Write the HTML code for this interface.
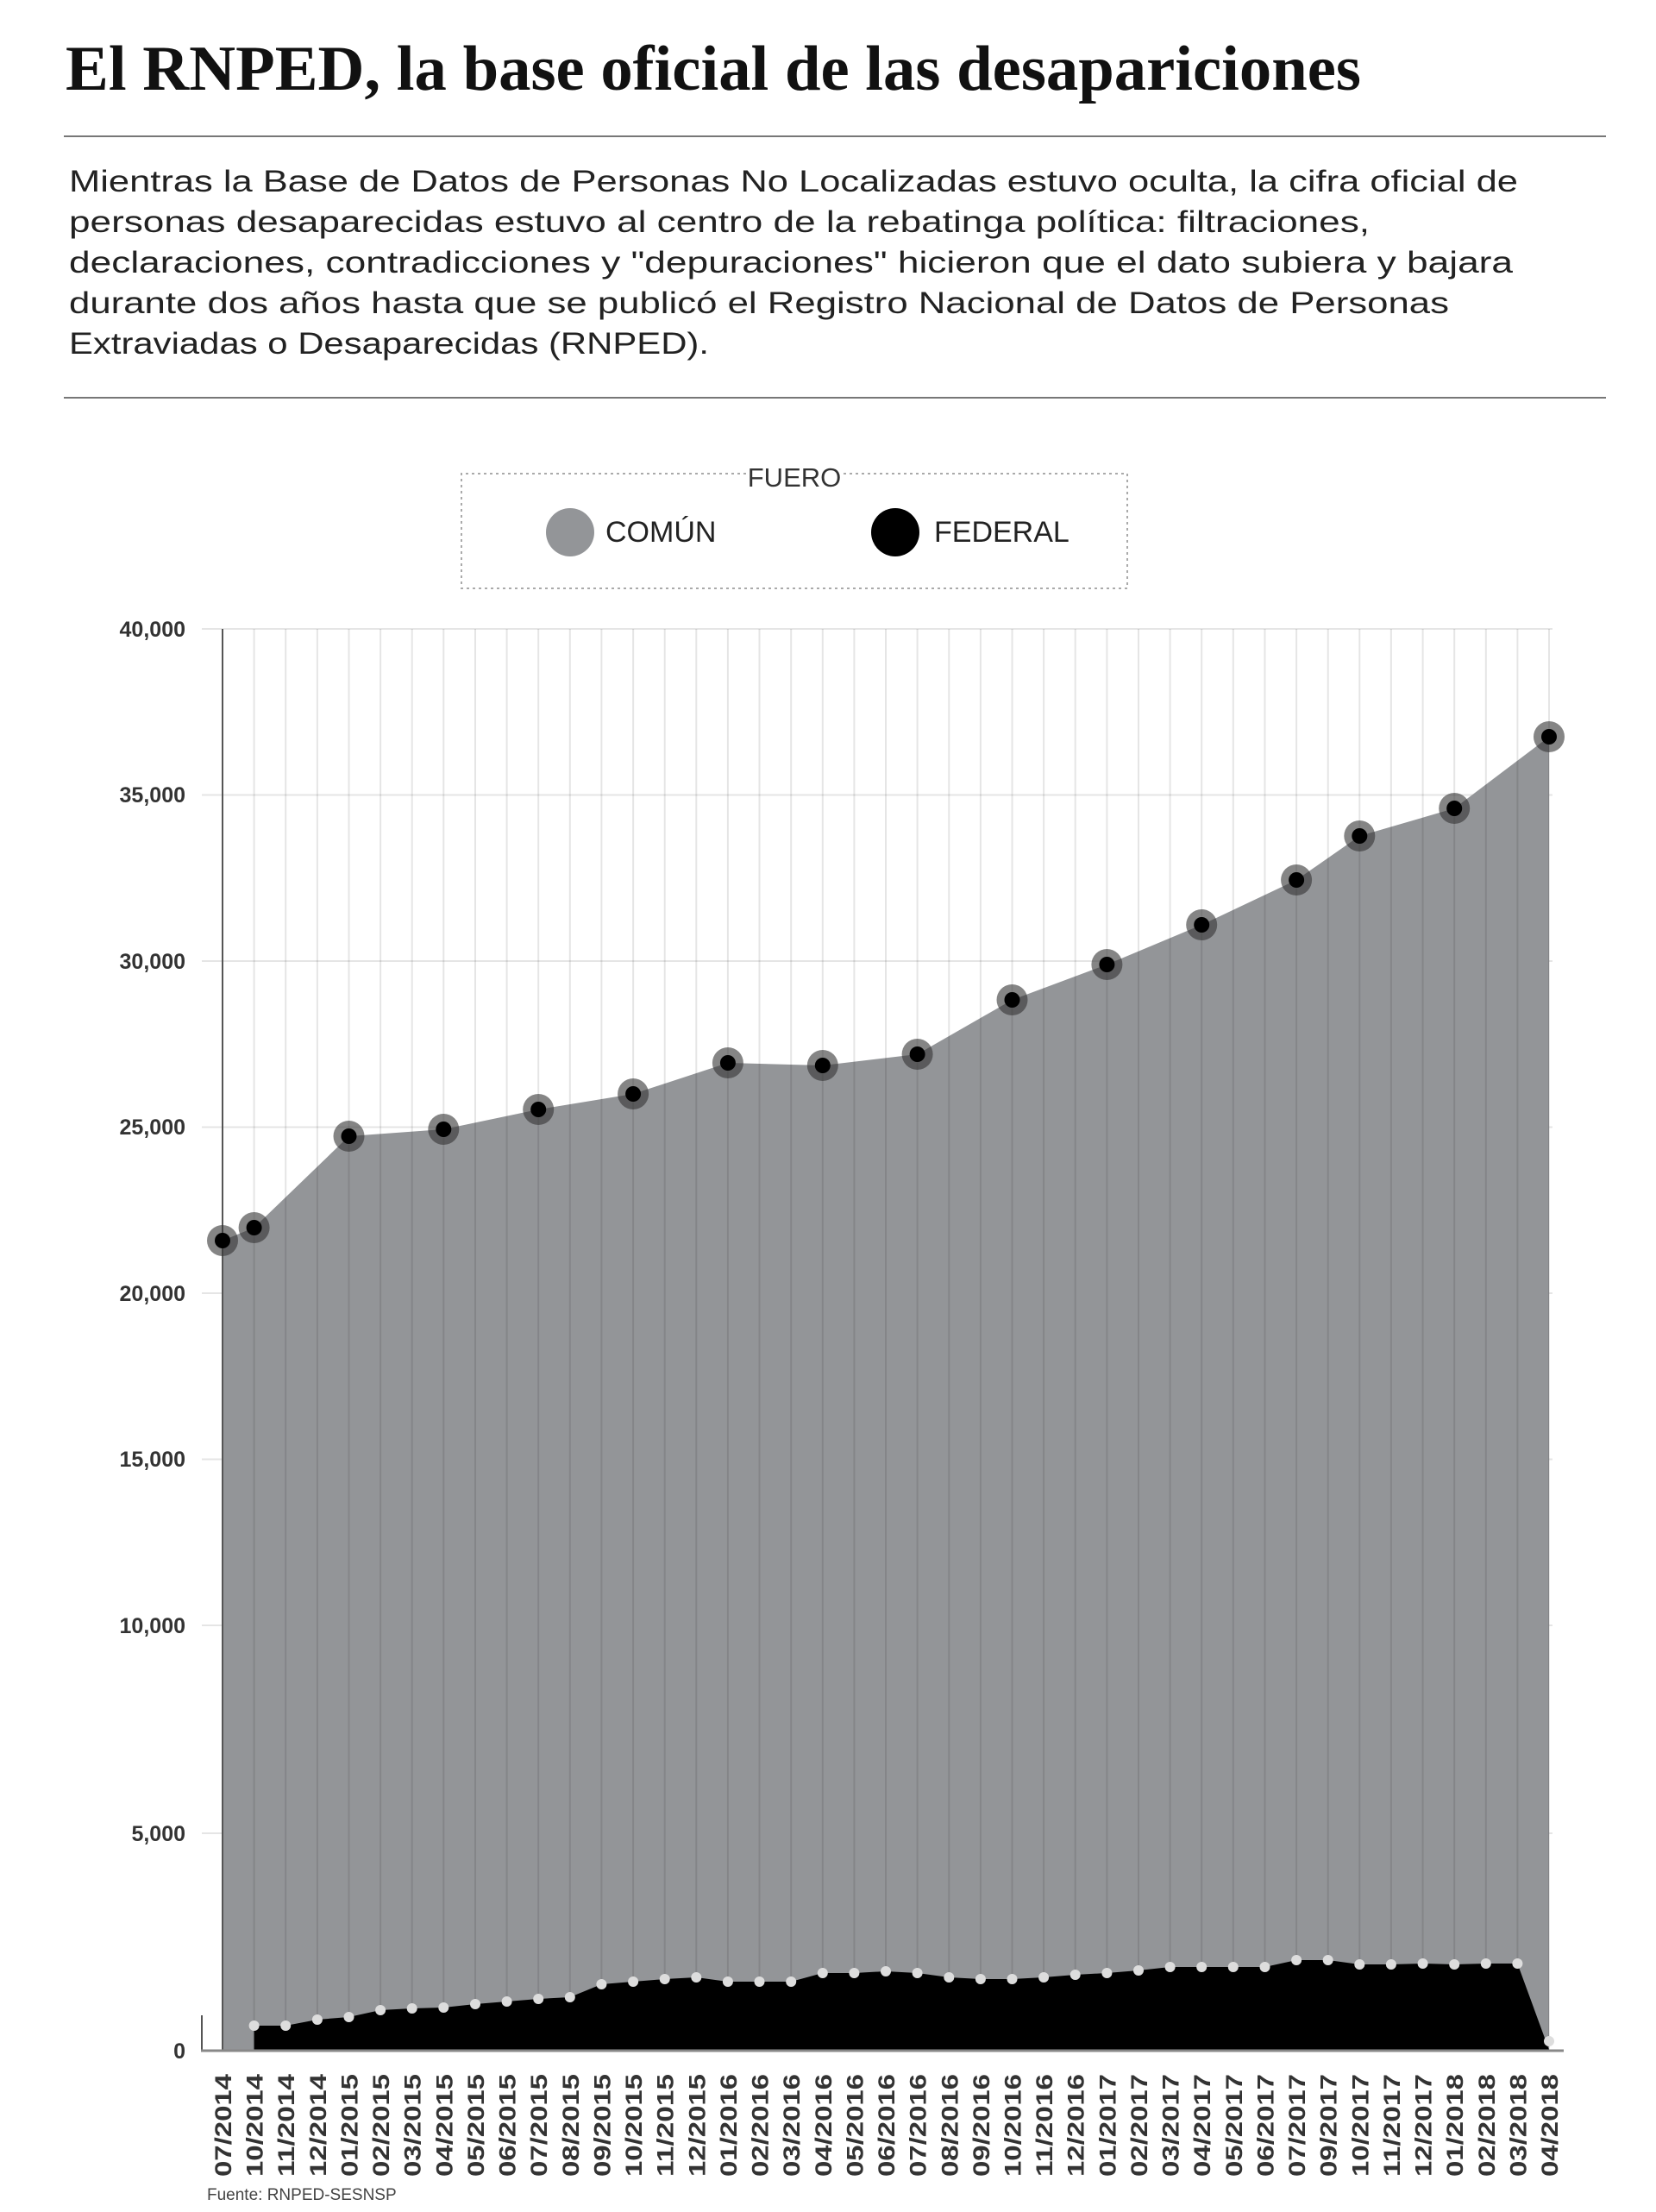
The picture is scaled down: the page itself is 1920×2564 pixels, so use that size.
<!DOCTYPE html>
<html><head><meta charset="utf-8"><style>
html,body{margin:0;padding:0;background:#fff;}
svg{display:block;}
.xl{font-family:"Liberation Sans",sans-serif;font-weight:bold;font-size:27px;fill:#333;}
.yl{font-family:"Liberation Sans",sans-serif;font-weight:bold;font-size:25px;fill:#333;}
.p{font-family:"Liberation Sans",sans-serif;font-size:35px;fill:#222;}
</style></head><body>
<svg width="1920" height="2564" viewBox="0 0 1920 2564" xmlns="http://www.w3.org/2000/svg">
<text x="76" y="104" font-family="Liberation Serif" font-weight="bold" font-size="74" fill="#111" textLength="1502" lengthAdjust="spacingAndGlyphs">El RNPED, la base oficial de las desapariciones</text>
<rect x="74" y="157" width="1788" height="2" fill="#777"/>
<text class="p" x="80" y="222" textLength="1680" lengthAdjust="spacingAndGlyphs">Mientras la Base de Datos de Personas No Localizadas estuvo oculta, la cifra oficial de</text>
<text class="p" x="80" y="269" textLength="1508" lengthAdjust="spacingAndGlyphs">personas desaparecidas estuvo al centro de la rebatinga política: filtraciones,</text>
<text class="p" x="80" y="316" textLength="1674" lengthAdjust="spacingAndGlyphs">declaraciones, contradicciones y "depuraciones" hicieron que el dato subiera y bajara</text>
<text class="p" x="80" y="363" textLength="1600" lengthAdjust="spacingAndGlyphs">durante dos años hasta que se publicó el Registro Nacional de Datos de Personas</text>
<text class="p" x="80" y="410" textLength="742" lengthAdjust="spacingAndGlyphs">Extraviadas o Desaparecidas (RNPED).</text>
<rect x="74" y="460" width="1788" height="2" fill="#777"/>
<!-- legend -->
<path d="M865 549 H535 V682 H1307 V549 H978" fill="none" stroke="#aaa" stroke-width="2" stroke-dasharray="3,4"/>
<text x="921" y="564" text-anchor="middle" font-family="Liberation Sans" font-size="31" fill="#333">FUERO</text>
<circle cx="661" cy="617" r="28" fill="#939598"/>
<text x="702" y="628" font-family="Liberation Sans" font-size="34" fill="#222">COMÚN</text>
<circle cx="1038" cy="617" r="28" fill="#000"/>
<text x="1083" y="628" font-family="Liberation Sans" font-size="34" fill="#222">FEDERAL</text>
<!-- horizontal grid -->
<g stroke="#000" stroke-opacity="0.1" stroke-width="2">
<line x1="234" y1="729" x2="1800" y2="729"/>
<line x1="234" y1="921.5" x2="1800" y2="921.5"/>
<line x1="234" y1="1114" x2="1800" y2="1114"/>
<line x1="234" y1="1306.5" x2="1800" y2="1306.5"/>
<line x1="234" y1="1499" x2="1800" y2="1499"/>
<line x1="234" y1="1691.5" x2="1800" y2="1691.5"/>
<line x1="234" y1="1884" x2="1800" y2="1884"/>
<line x1="234" y1="2125" x2="1800" y2="2125"/>
</g>
<g class="yl" text-anchor="end">
<text x="215" y="738">40,000</text>
<text x="215" y="930">35,000</text>
<text x="215" y="1123">30,000</text>
<text x="215" y="1315">25,000</text>
<text x="215" y="1508">20,000</text>
<text x="215" y="1700">15,000</text>
<text x="215" y="1893">10,000</text>
<text x="215" y="2134">5,000</text>
<text x="215" y="2386">0</text>
</g>
<!-- areas -->
<polygon fill="#939598" points="258,1438 294.6,1423 404.5,1317 514.3,1309 624.2,1286 734.1,1268 843.9,1232 953.8,1235 1063.6,1222 1173.5,1159 1283.4,1118 1393.2,1072 1503.1,1020 1576.3,969 1686.2,937 1796,854 1796,2376 258,2376"/>
<polygon fill="#000" points="294.6,2376 294.6,2348 331.2,2348 367.9,2341 404.5,2338 441.1,2330 477.7,2328 514.3,2327 551,2323 587.6,2320 624.2,2317 660.8,2315 697.4,2300 734.1,2297 770.7,2294 807.3,2292 843.9,2297 880.5,2297 917.2,2297 953.8,2287 990.4,2287 1027,2285 1063.6,2287 1100.3,2292 1136.9,2294 1173.5,2294 1210.1,2292 1246.7,2289 1283.4,2287 1320,2284 1356.6,2280 1393.2,2280 1429.8,2280 1466.5,2280 1503.1,2272 1539.7,2272 1576.3,2277 1612.9,2277 1649.6,2276 1686.2,2277 1722.8,2276 1759.4,2276 1796,2376"/>
<!-- vertical grid -->
<g stroke="#000" stroke-opacity="0.1" stroke-width="2">
<line x1="294.6" y1="729" x2="294.6" y2="2376"/><line x1="331.2" y1="729" x2="331.2" y2="2376"/><line x1="367.9" y1="729" x2="367.9" y2="2376"/><line x1="404.5" y1="729" x2="404.5" y2="2376"/><line x1="441.1" y1="729" x2="441.1" y2="2376"/><line x1="477.7" y1="729" x2="477.7" y2="2376"/><line x1="514.3" y1="729" x2="514.3" y2="2376"/><line x1="551" y1="729" x2="551" y2="2376"/><line x1="587.6" y1="729" x2="587.6" y2="2376"/><line x1="624.2" y1="729" x2="624.2" y2="2376"/><line x1="660.8" y1="729" x2="660.8" y2="2376"/><line x1="697.4" y1="729" x2="697.4" y2="2376"/><line x1="734.1" y1="729" x2="734.1" y2="2376"/><line x1="770.7" y1="729" x2="770.7" y2="2376"/><line x1="807.3" y1="729" x2="807.3" y2="2376"/><line x1="843.9" y1="729" x2="843.9" y2="2376"/><line x1="880.5" y1="729" x2="880.5" y2="2376"/><line x1="917.2" y1="729" x2="917.2" y2="2376"/><line x1="953.8" y1="729" x2="953.8" y2="2376"/><line x1="990.4" y1="729" x2="990.4" y2="2376"/><line x1="1027" y1="729" x2="1027" y2="2376"/><line x1="1063.6" y1="729" x2="1063.6" y2="2376"/><line x1="1100.3" y1="729" x2="1100.3" y2="2376"/><line x1="1136.9" y1="729" x2="1136.9" y2="2376"/><line x1="1173.5" y1="729" x2="1173.5" y2="2376"/><line x1="1210.1" y1="729" x2="1210.1" y2="2376"/><line x1="1246.7" y1="729" x2="1246.7" y2="2376"/><line x1="1283.4" y1="729" x2="1283.4" y2="2376"/><line x1="1320" y1="729" x2="1320" y2="2376"/><line x1="1356.6" y1="729" x2="1356.6" y2="2376"/><line x1="1393.2" y1="729" x2="1393.2" y2="2376"/><line x1="1429.8" y1="729" x2="1429.8" y2="2376"/><line x1="1466.5" y1="729" x2="1466.5" y2="2376"/><line x1="1503.1" y1="729" x2="1503.1" y2="2376"/><line x1="1539.7" y1="729" x2="1539.7" y2="2376"/><line x1="1576.3" y1="729" x2="1576.3" y2="2376"/><line x1="1612.9" y1="729" x2="1612.9" y2="2376"/><line x1="1649.6" y1="729" x2="1649.6" y2="2376"/><line x1="1686.2" y1="729" x2="1686.2" y2="2376"/><line x1="1722.8" y1="729" x2="1722.8" y2="2376"/><line x1="1759.4" y1="729" x2="1759.4" y2="2376"/><line x1="1796" y1="729" x2="1796" y2="2376"/>
</g>
<!-- axes -->
<line x1="258" y1="729" x2="258" y2="2376" stroke="#555" stroke-width="2"/>
<line x1="234" y1="2336" x2="234" y2="2377" stroke="#555" stroke-width="2"/>
<line x1="233" y1="2377" x2="1813" y2="2377" stroke="#888" stroke-width="3"/>
<!-- federal dots -->
<g fill="#ddd">
<circle cx="294.6" cy="2348" r="6"/><circle cx="331.2" cy="2348" r="6"/><circle cx="367.9" cy="2341" r="6"/><circle cx="404.5" cy="2338" r="6"/><circle cx="441.1" cy="2330" r="6"/><circle cx="477.7" cy="2328" r="6"/><circle cx="514.3" cy="2327" r="6"/><circle cx="551" cy="2323" r="6"/><circle cx="587.6" cy="2320" r="6"/><circle cx="624.2" cy="2317" r="6"/><circle cx="660.8" cy="2315" r="6"/><circle cx="697.4" cy="2300" r="6"/><circle cx="734.1" cy="2297" r="6"/><circle cx="770.7" cy="2294" r="6"/><circle cx="807.3" cy="2292" r="6"/><circle cx="843.9" cy="2297" r="6"/><circle cx="880.5" cy="2297" r="6"/><circle cx="917.2" cy="2297" r="6"/><circle cx="953.8" cy="2287" r="6"/><circle cx="990.4" cy="2287" r="6"/><circle cx="1027" cy="2285" r="6"/><circle cx="1063.6" cy="2287" r="6"/><circle cx="1100.3" cy="2292" r="6"/><circle cx="1136.9" cy="2294" r="6"/><circle cx="1173.5" cy="2294" r="6"/><circle cx="1210.1" cy="2292" r="6"/><circle cx="1246.7" cy="2289" r="6"/><circle cx="1283.4" cy="2287" r="6"/><circle cx="1320" cy="2284" r="6"/><circle cx="1356.6" cy="2280" r="6"/><circle cx="1393.2" cy="2280" r="6"/><circle cx="1429.8" cy="2280" r="6"/><circle cx="1466.5" cy="2280" r="6"/><circle cx="1503.1" cy="2272" r="6"/><circle cx="1539.7" cy="2272" r="6"/><circle cx="1576.3" cy="2277" r="6"/><circle cx="1612.9" cy="2277" r="6"/><circle cx="1649.6" cy="2276" r="6"/><circle cx="1686.2" cy="2277" r="6"/><circle cx="1722.8" cy="2276" r="6"/><circle cx="1759.4" cy="2276" r="6"/><circle cx="1796" cy="2366" r="6"/>
</g>
<!-- common markers -->
<g fill="#333" fill-opacity="0.6">
<circle cx="258" cy="1438" r="18"/><circle cx="294.6" cy="1423" r="18"/><circle cx="404.5" cy="1317" r="18"/><circle cx="514.3" cy="1309" r="18"/><circle cx="624.2" cy="1286" r="18"/><circle cx="734.1" cy="1268" r="18"/><circle cx="843.9" cy="1232" r="18"/><circle cx="953.8" cy="1235" r="18"/><circle cx="1063.6" cy="1222" r="18"/><circle cx="1173.5" cy="1159" r="18"/><circle cx="1283.4" cy="1118" r="18"/><circle cx="1393.2" cy="1072" r="18"/><circle cx="1503.1" cy="1020" r="18"/><circle cx="1576.3" cy="969" r="18"/><circle cx="1686.2" cy="937" r="18"/><circle cx="1796" cy="854" r="18"/>
</g>
<g fill="#000">
<circle cx="258" cy="1438" r="9"/><circle cx="294.6" cy="1423" r="9"/><circle cx="404.5" cy="1317" r="9"/><circle cx="514.3" cy="1309" r="9"/><circle cx="624.2" cy="1286" r="9"/><circle cx="734.1" cy="1268" r="9"/><circle cx="843.9" cy="1232" r="9"/><circle cx="953.8" cy="1235" r="9"/><circle cx="1063.6" cy="1222" r="9"/><circle cx="1173.5" cy="1159" r="9"/><circle cx="1283.4" cy="1118" r="9"/><circle cx="1393.2" cy="1072" r="9"/><circle cx="1503.1" cy="1020" r="9"/><circle cx="1576.3" cy="969" r="9"/><circle cx="1686.2" cy="937" r="9"/><circle cx="1796" cy="854" r="9"/>
</g>
<!-- x labels -->
<g class="xl" text-anchor="end">
<text transform="translate(268,2404) rotate(-90)" textLength="119" lengthAdjust="spacingAndGlyphs">07/2014</text>
<text transform="translate(304.6,2404) rotate(-90)" textLength="119" lengthAdjust="spacingAndGlyphs">10/2014</text>
<text transform="translate(341.2,2404) rotate(-90)" textLength="119" lengthAdjust="spacingAndGlyphs">11/2014</text>
<text transform="translate(377.9,2404) rotate(-90)" textLength="119" lengthAdjust="spacingAndGlyphs">12/2014</text>
<text transform="translate(414.5,2404) rotate(-90)" textLength="119" lengthAdjust="spacingAndGlyphs">01/2015</text>
<text transform="translate(451.1,2404) rotate(-90)" textLength="119" lengthAdjust="spacingAndGlyphs">02/2015</text>
<text transform="translate(487.7,2404) rotate(-90)" textLength="119" lengthAdjust="spacingAndGlyphs">03/2015</text>
<text transform="translate(524.3,2404) rotate(-90)" textLength="119" lengthAdjust="spacingAndGlyphs">04/2015</text>
<text transform="translate(561,2404) rotate(-90)" textLength="119" lengthAdjust="spacingAndGlyphs">05/2015</text>
<text transform="translate(597.6,2404) rotate(-90)" textLength="119" lengthAdjust="spacingAndGlyphs">06/2015</text>
<text transform="translate(634.2,2404) rotate(-90)" textLength="119" lengthAdjust="spacingAndGlyphs">07/2015</text>
<text transform="translate(670.8,2404) rotate(-90)" textLength="119" lengthAdjust="spacingAndGlyphs">08/2015</text>
<text transform="translate(707.4,2404) rotate(-90)" textLength="119" lengthAdjust="spacingAndGlyphs">09/2015</text>
<text transform="translate(744.1,2404) rotate(-90)" textLength="119" lengthAdjust="spacingAndGlyphs">10/2015</text>
<text transform="translate(780.7,2404) rotate(-90)" textLength="119" lengthAdjust="spacingAndGlyphs">11/2015</text>
<text transform="translate(817.3,2404) rotate(-90)" textLength="119" lengthAdjust="spacingAndGlyphs">12/2015</text>
<text transform="translate(853.9,2404) rotate(-90)" textLength="119" lengthAdjust="spacingAndGlyphs">01/2016</text>
<text transform="translate(890.5,2404) rotate(-90)" textLength="119" lengthAdjust="spacingAndGlyphs">02/2016</text>
<text transform="translate(927.2,2404) rotate(-90)" textLength="119" lengthAdjust="spacingAndGlyphs">03/2016</text>
<text transform="translate(963.8,2404) rotate(-90)" textLength="119" lengthAdjust="spacingAndGlyphs">04/2016</text>
<text transform="translate(1000.4,2404) rotate(-90)" textLength="119" lengthAdjust="spacingAndGlyphs">05/2016</text>
<text transform="translate(1037,2404) rotate(-90)" textLength="119" lengthAdjust="spacingAndGlyphs">06/2016</text>
<text transform="translate(1073.6,2404) rotate(-90)" textLength="119" lengthAdjust="spacingAndGlyphs">07/2016</text>
<text transform="translate(1110.3,2404) rotate(-90)" textLength="119" lengthAdjust="spacingAndGlyphs">08/2016</text>
<text transform="translate(1146.9,2404) rotate(-90)" textLength="119" lengthAdjust="spacingAndGlyphs">09/2016</text>
<text transform="translate(1183.5,2404) rotate(-90)" textLength="119" lengthAdjust="spacingAndGlyphs">10/2016</text>
<text transform="translate(1220.1,2404) rotate(-90)" textLength="119" lengthAdjust="spacingAndGlyphs">11/2016</text>
<text transform="translate(1256.7,2404) rotate(-90)" textLength="119" lengthAdjust="spacingAndGlyphs">12/2016</text>
<text transform="translate(1293.4,2404) rotate(-90)" textLength="119" lengthAdjust="spacingAndGlyphs">01/2017</text>
<text transform="translate(1330,2404) rotate(-90)" textLength="119" lengthAdjust="spacingAndGlyphs">02/2017</text>
<text transform="translate(1366.6,2404) rotate(-90)" textLength="119" lengthAdjust="spacingAndGlyphs">03/2017</text>
<text transform="translate(1403.2,2404) rotate(-90)" textLength="119" lengthAdjust="spacingAndGlyphs">04/2017</text>
<text transform="translate(1439.8,2404) rotate(-90)" textLength="119" lengthAdjust="spacingAndGlyphs">05/2017</text>
<text transform="translate(1476.5,2404) rotate(-90)" textLength="119" lengthAdjust="spacingAndGlyphs">06/2017</text>
<text transform="translate(1513.1,2404) rotate(-90)" textLength="119" lengthAdjust="spacingAndGlyphs">07/2017</text>
<text transform="translate(1549.7,2404) rotate(-90)" textLength="119" lengthAdjust="spacingAndGlyphs">09/2017</text>
<text transform="translate(1586.3,2404) rotate(-90)" textLength="119" lengthAdjust="spacingAndGlyphs">10/2017</text>
<text transform="translate(1622.9,2404) rotate(-90)" textLength="119" lengthAdjust="spacingAndGlyphs">11/2017</text>
<text transform="translate(1659.6,2404) rotate(-90)" textLength="119" lengthAdjust="spacingAndGlyphs">12/2017</text>
<text transform="translate(1696.2,2404) rotate(-90)" textLength="119" lengthAdjust="spacingAndGlyphs">01/2018</text>
<text transform="translate(1732.8,2404) rotate(-90)" textLength="119" lengthAdjust="spacingAndGlyphs">02/2018</text>
<text transform="translate(1769.4,2404) rotate(-90)" textLength="119" lengthAdjust="spacingAndGlyphs">03/2018</text>
<text transform="translate(1806,2404) rotate(-90)" textLength="119" lengthAdjust="spacingAndGlyphs">04/2018</text>
</g>
<text x="240" y="2550" font-family="Liberation Sans" font-size="19" fill="#444">Fuente: RNPED-SESNSP</text>
</svg>
</body></html>
